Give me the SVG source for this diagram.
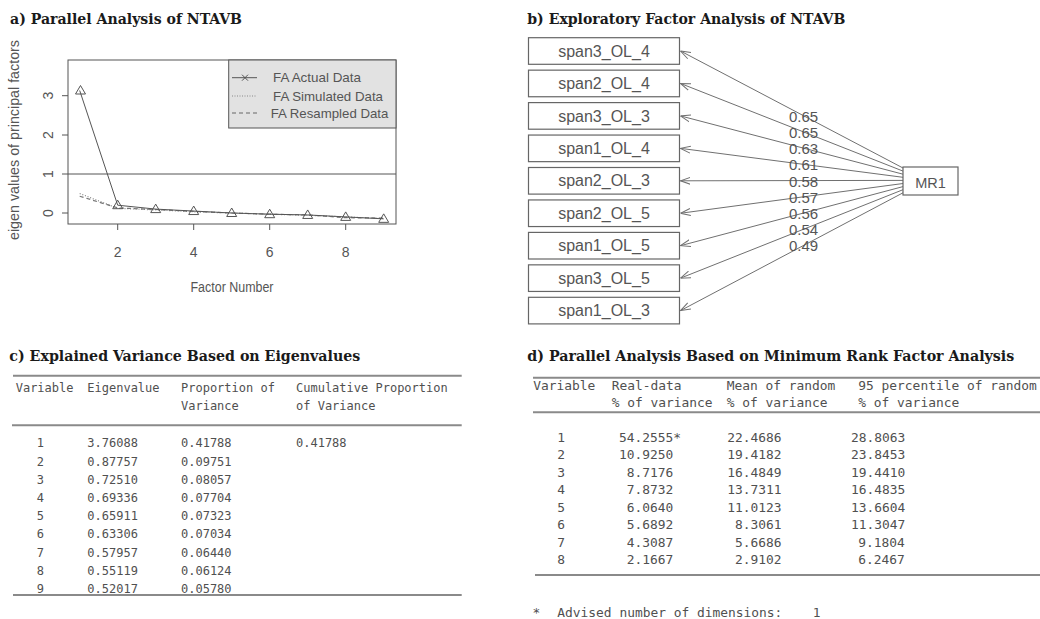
<svg xmlns="http://www.w3.org/2000/svg" width="1040" height="619" viewBox="0 0 1040 619">
<style>
.title{font-family:"DejaVu Serif Condensed","DejaVu Serif","Liberation Serif",serif;font-weight:bold;font-size:15.5px;fill:#1a1a1a}
.rt{font-family:"Liberation Sans",Arial,sans-serif;fill:#555}
.ax{stroke:#555;stroke-width:1;fill:none}
.mono{font-family:"DejaVu Sans Mono","Liberation Mono",monospace;font-size:12px;fill:#505050}
.monod{font-family:"DejaVu Sans Mono","Liberation Mono",monospace;font-size:12.9px;fill:#505050}
.rule{stroke:#8a8a8a;stroke-width:2}
.box{fill:#fff;stroke:#666;stroke-width:1.2}
.vl{font-family:"Liberation Sans",Arial,sans-serif;font-size:16px;fill:#555;text-anchor:middle}
.ld{font-family:"Liberation Sans",Arial,sans-serif;font-size:15px;fill:#555;text-anchor:middle}
.edge{stroke:#707070;stroke-width:1;fill:none;marker-start:url(#ah)}
.tri{fill:none;stroke:#555;stroke-width:1}
</style>
<defs>
<marker id="ah" viewBox="0 0 10 10" refX="10" refY="5" markerWidth="10" markerHeight="10" markerUnits="userSpaceOnUse" orient="auto-start-reverse">
<path d="M0,1.5 L10,5 L0,8.5" fill="none" stroke="#707070" stroke-width="1"/>
</marker>
<path id="tr" d="M0,-5 L5,3.5 L-5,3.5 Z"/>
</defs>
<rect width="1040" height="619" fill="#fff"/>

<!-- Panel a -->
<g id="panel-a">
<text class="title" x="10" y="24" textLength="232" lengthAdjust="spacingAndGlyphs">a) Parallel Analysis of NTAVB</text>
<rect class="ax" x="68" y="60" width="328" height="164"/>
<line class="ax" x1="68" y1="174" x2="396" y2="174"/>
<path class="ax" d="M68,213 H62 M68,174 H62 M68,135 H62 M68,95.7 H62"/>
<g class="rt" font-size="14" text-anchor="middle">
<text transform="translate(53,213) rotate(-90)">0</text>
<text transform="translate(53,174) rotate(-90)">1</text>
<text transform="translate(53,135) rotate(-90)">2</text>
<text transform="translate(53,95.7) rotate(-90)">3</text>
<text transform="translate(19,140) rotate(-90)" textLength="200" lengthAdjust="spacingAndGlyphs">eigen values of principal factors</text>
</g>
<path class="ax" d="M117.7,224 V230 M193.7,224 V230 M269.7,224 V230 M345.7,224 V230"/>
<g class="rt" font-size="14" text-anchor="middle">
<text x="117.7" y="257">2</text>
<text x="193.7" y="257">4</text>
<text x="269.7" y="257">6</text>
<text x="345.7" y="257">8</text>
<text x="232" y="292" textLength="83" lengthAdjust="spacingAndGlyphs">Factor Number</text>
</g>
<polyline fill="none" stroke="#888" stroke-width="1.2" stroke-dasharray="1,1.8" points="79.7,193.5 117.7,208.3 155.7,209.9 193.7,211.8 231.7,213 269.7,214.2 307.7,215.3 345.7,216.9 383.7,218.5"/>
<polyline fill="none" stroke="#777" stroke-width="1.2" stroke-dasharray="4,3" points="79.7,196.2 117.7,207.9 155.7,209.5 193.7,211.4 231.7,213 269.7,214.2 307.7,214.9 345.7,217.7 383.7,218.1"/>
<polyline fill="none" stroke="#555" stroke-width="1" points="79.7,90.5 117.7,205.2 155.7,209.1 193.7,211.05 231.7,213 269.7,214.2 307.7,214.95 345.7,216.9 383.7,218.85"/>
<g class="tri">
<use href="#tr" x="80.5" y="90.5"/>
<use href="#tr" x="117.7" y="205.2"/>
<use href="#tr" x="155.7" y="209.1"/>
<use href="#tr" x="193.7" y="211.05"/>
<use href="#tr" x="231.7" y="213"/>
<use href="#tr" x="269.7" y="214.2"/>
<use href="#tr" x="307.7" y="214.95"/>
<use href="#tr" x="345.7" y="216.9"/>
<use href="#tr" x="383.7" y="218.85"/>
</g>
<rect x="228.7" y="60" width="167.3" height="68" fill="#e2e2e2" stroke="#555" stroke-width="1"/>
<line x1="232" y1="77.7" x2="257" y2="77.7" stroke="#555"/>
<path d="M242,74.7 L248,80.7 M248,74.7 L242,80.7" stroke="#555"/>
<line x1="232" y1="96" x2="257" y2="96" stroke="#888" stroke-dasharray="1,1.5"/>
<line x1="232" y1="113" x2="257" y2="113" stroke="#666" stroke-dasharray="4,3"/>
<g class="rt" font-size="13.5">
<text x="273" y="82.2" textLength="88" lengthAdjust="spacingAndGlyphs">FA  Actual Data</text>
<text x="273" y="100.5" textLength="110" lengthAdjust="spacingAndGlyphs">FA  Simulated Data</text>
<text x="270.7" y="117.5" textLength="117.7" lengthAdjust="spacingAndGlyphs">FA  Resampled Data</text>
</g>
</g>

<!-- Panel b -->
<text class="title" x="527.3" y="24" textLength="318" lengthAdjust="spacingAndGlyphs">b) Exploratory Factor Analysis of NTAVB</text>
<g id="connectors">
<line class="edge" x1="680.5" y1="51" x2="903" y2="168"/>
<line class="edge" x1="680.5" y1="83.45" x2="903" y2="171.1"/>
<line class="edge" x1="680.5" y1="115.9" x2="903" y2="174.2"/>
<line class="edge" x1="680.5" y1="148.35" x2="903" y2="177.3"/>
<line class="edge" x1="680.5" y1="180.8" x2="903" y2="180.4"/>
<line class="edge" x1="680.5" y1="213.25" x2="903" y2="183.5"/>
<line class="edge" x1="680.5" y1="245.7" x2="903" y2="186.6"/>
<line class="edge" x1="680.5" y1="278.15" x2="903" y2="189.7"/>
<line class="edge" x1="680.5" y1="310.6" x2="903" y2="192.8"/>
<text class="ld" x="803.5" y="121.7">0.65</text>
<text class="ld" x="803.5" y="137.9">0.65</text>
<text class="ld" x="803.5" y="154.1">0.63</text>
<text class="ld" x="803.5" y="170.3">0.61</text>
<text class="ld" x="803.5" y="186.5">0.58</text>
<text class="ld" x="803.5" y="202.7">0.57</text>
<text class="ld" x="803.5" y="218.9">0.56</text>
<text class="ld" x="803.5" y="235.1">0.54</text>
<text class="ld" x="803.5" y="251.3">0.49</text>
</g>
<g id="n-span3_OL_4"><rect class="box" x="528.5" y="37.7" width="151" height="26.6"/><text class="vl" x="604" y="56.6">span3_OL_4</text></g>
<g id="n-span2_OL_4"><rect class="box" x="528.5" y="70.15" width="151" height="26.6"/><text class="vl" x="604" y="89.05">span2_OL_4</text></g>
<g id="n-span3_OL_3"><rect class="box" x="528.5" y="102.6" width="151" height="26.6"/><text class="vl" x="604" y="121.5">span3_OL_3</text></g>
<g id="n-span1_OL_4"><rect class="box" x="528.5" y="135.05" width="151" height="26.6"/><text class="vl" x="604" y="153.95">span1_OL_4</text></g>
<g id="n-span2_OL_3"><rect class="box" x="528.5" y="167.5" width="151" height="26.6"/><text class="vl" x="604" y="186.4">span2_OL_3</text></g>
<g id="n-span2_OL_5"><rect class="box" x="528.5" y="199.95" width="151" height="26.6"/><text class="vl" x="604" y="218.85">span2_OL_5</text></g>
<g id="n-span1_OL_5"><rect class="box" x="528.5" y="232.4" width="151" height="26.6"/><text class="vl" x="604" y="251.3">span1_OL_5</text></g>
<g id="n-span3_OL_5"><rect class="box" x="528.5" y="264.85" width="151" height="26.6"/><text class="vl" x="604" y="283.75">span3_OL_5</text></g>
<g id="n-span1_OL_3"><rect class="box" x="528.5" y="297.3" width="151" height="26.6"/><text class="vl" x="604" y="316.2">span1_OL_3</text></g>
<g id="n-MR1"><rect class="box" x="903" y="167" width="55" height="28"/><text class="rt" x="930.5" y="187.5" font-size="14.5" text-anchor="middle">MR1</text></g>

<!-- Panel c -->
<g id="panel-c">
<text class="title" x="9.3" y="361" textLength="351" lengthAdjust="spacingAndGlyphs">c) Explained Variance Based on Eigenvalues</text>
<line class="rule" x1="13" y1="375.7" x2="461.7" y2="375.7"/>
<line class="rule" x1="12" y1="425.3" x2="461.7" y2="425.3"/>
<line class="rule" x1="13" y1="595" x2="461.7" y2="595"/>
<g class="mono">
<text x="15.7" y="392">Variable</text>
<text x="87.3" y="392">Eigenvalue</text>
<text x="181" y="392">Proportion of</text>
<text x="181" y="410">Variance</text>
<text x="296" y="392">Cumulative Proportion</text>
<text x="296" y="410">of Variance</text>
<text x="36.7" y="447.3">1</text><text x="87.3" y="447.3">3.76088</text><text x="181" y="447.3">0.41788</text><text x="296" y="447.3">0.41788</text>
<text x="36.7" y="465.5">2</text><text x="87.3" y="465.5">0.87757</text><text x="181" y="465.5">0.09751</text>
<text x="36.7" y="483.7">3</text><text x="87.3" y="483.7">0.72510</text><text x="181" y="483.7">0.08057</text>
<text x="36.7" y="501.9">4</text><text x="87.3" y="501.9">0.69336</text><text x="181" y="501.9">0.07704</text>
<text x="36.7" y="520.1">5</text><text x="87.3" y="520.1">0.65911</text><text x="181" y="520.1">0.07323</text>
<text x="36.7" y="538.3">6</text><text x="87.3" y="538.3">0.63306</text><text x="181" y="538.3">0.07034</text>
<text x="36.7" y="556.5">7</text><text x="87.3" y="556.5">0.57957</text><text x="181" y="556.5">0.06440</text>
<text x="36.7" y="574.7">8</text><text x="87.3" y="574.7">0.55119</text><text x="181" y="574.7">0.06124</text>
<text x="36.7" y="592.9">9</text><text x="87.3" y="592.9">0.52017</text><text x="181" y="592.9">0.05780</text>
</g>
</g>

<!-- Panel d -->
<g id="panel-d">
<text class="title" x="527.3" y="361" textLength="487" lengthAdjust="spacingAndGlyphs">d) Parallel Analysis Based on Minimum Rank Factor Analysis</text>
<line class="rule" x1="533" y1="377.7" x2="1040" y2="377.7"/>
<line class="rule" x1="533" y1="412.3" x2="1040" y2="412.3"/>
<line class="rule" x1="535" y1="575" x2="1040" y2="575"/>
<g class="monod">
<text x="533.3" y="390">Variable</text>
<text x="611.7" y="390">Real-data</text>
<text x="726.7" y="390">Mean of random</text>
<text x="858.3" y="390">95 percentile of random</text>
<text x="611.7" y="406.5">% of variance</text>
<text x="726.7" y="406.5">% of variance</text>
<text x="858.3" y="406.5">% of variance</text>
<text x="557.3" y="441.7">1</text><text x="619" y="441.7">54.2555*</text><text x="727.3" y="441.7">22.4686</text><text x="851" y="441.7">28.8063</text>
<text x="557.3" y="459.2">2</text><text x="619" y="459.2">10.9250</text><text x="727.3" y="459.2">19.4182</text><text x="851" y="459.2">23.8453</text>
<text x="557.3" y="476.7">3</text><text x="626.8" y="476.7">8.7176</text><text x="727.3" y="476.7">16.4849</text><text x="851" y="476.7">19.4410</text>
<text x="557.3" y="494.2">4</text><text x="626.8" y="494.2">7.8732</text><text x="727.3" y="494.2">13.7311</text><text x="851" y="494.2">16.4835</text>
<text x="557.3" y="511.7">5</text><text x="626.8" y="511.7">6.0640</text><text x="727.3" y="511.7">11.0123</text><text x="851" y="511.7">13.6604</text>
<text x="557.3" y="529.2">6</text><text x="626.8" y="529.2">5.6892</text><text x="735" y="529.2">8.3061</text><text x="851" y="529.2">11.3047</text>
<text x="557.3" y="546.7">7</text><text x="626.8" y="546.7">4.3087</text><text x="735" y="546.7">5.6686</text><text x="858.3" y="546.7">9.1804</text>
<text x="557.3" y="564.2">8</text><text x="626.8" y="564.2">2.1667</text><text x="735" y="564.2">2.9102</text><text x="858.3" y="564.2">6.2467</text>
<text x="532.5" y="616.5">*</text>
<text x="557.3" y="616.5">Advised number of dimensions:</text>
<text x="812.7" y="616.5">1</text>
</g>
</g>
</svg>
